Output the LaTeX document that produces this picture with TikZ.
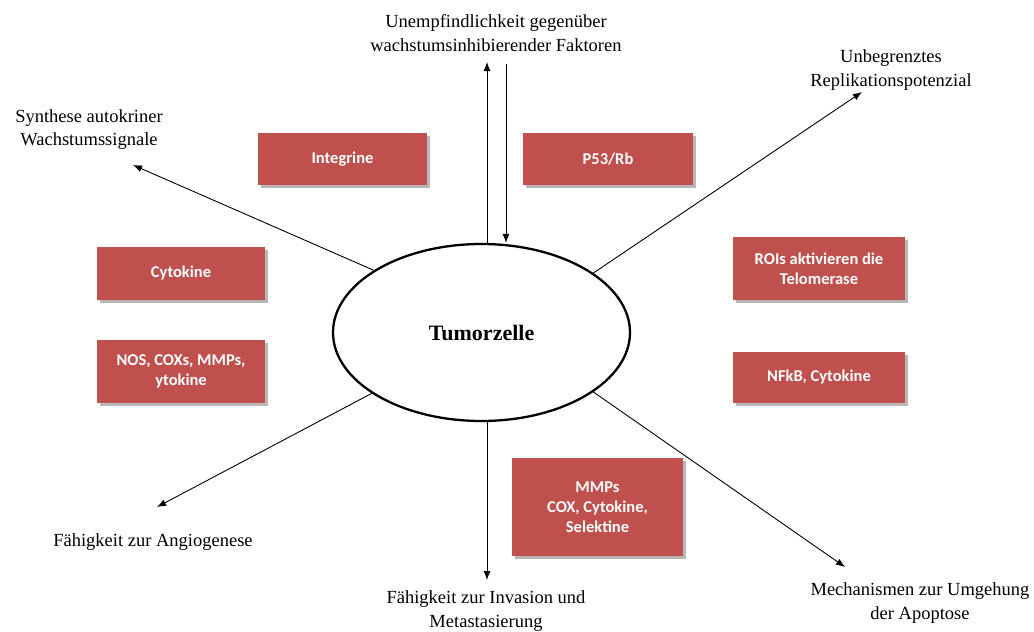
\documentclass[tikz,border=0pt]{standalone}
\usepackage{fontspec}
\setmainfont{Liberation Serif}
\newfontfamily\boxfont{Carlito}
\usetikzlibrary{shapes.geometric,arrows.meta,shadows}
\definecolor{boxred}{RGB}{192,80,77}
\tikzset{
  redbox/.style={draw=none, fill=boxred, text=white, font=\boxfont\bfseries\fontsize{16.5}{20}\selectfont,
    align=center, inner sep=0pt,
    drop shadow={shadow xshift=3pt, shadow yshift=-3pt, fill=gray!70, opacity=0.8}},
  lbl/.style={font=\fontsize{18.5}{23.5}\selectfont, align=center, inner sep=0pt},
  arr/.style={-{Latex[length=9pt,width=7pt]}, line width=0.9pt}
}
\begin{document}
\begin{tikzpicture}[x=1pt,y=-1pt]
\useasboundingbox (0,0) rectangle (1034,632);
\fill[white] (0,0) rectangle (1034,632);

% central cell
\node[ellipse, draw, line width=2.3pt, minimum width=297pt, minimum height=177pt, inner sep=0pt,
  font=\bfseries\fontsize{22}{24}\selectfont] (cell) at (481.5,332.5) {Tumorzelle};

% boxes
\node[redbox, minimum width=169pt, minimum height=52pt] (integ) at (342.5,159) {Integrine};
\node[redbox, minimum width=170pt, minimum height=52pt] (p53) at (608,159) {P53/Rb};
\node[redbox, minimum width=168pt, minimum height=53pt] (cyto) at (181,273.5) {Cytokine};
\node[redbox, minimum width=168pt, minimum height=63pt] (nos) at (181,371.5) {NOS, COXs, MMPs,\\ytokine};
\node[redbox, minimum width=172pt, minimum height=63pt] (rois) at (819,268.5) {ROIs aktivieren die\\Telomerase};
\node[redbox, minimum width=172pt, minimum height=51pt] (nfkb) at (819,377.5) {NFkB, Cytokine};
\node[redbox, minimum width=171pt, minimum height=98pt] (mmps) at (597.5,507) {MMPs\\COX, Cytokine,\\Selektine};

% labels
\node[lbl] (top) at (496,33) {Unempfindlichkeit gegenüber\\wachstumsinhibierender Faktoren};
\node[lbl] (synth) at (89,129.5) {Synthese autokriner\\Wachstumssignale};
\node[lbl] (repl) at (891,70) {Unbegrenztes\\Replikationspotenzial};
\node[lbl] (angio) at (153,542) {Fähigkeit zur Angiogenese};
\node[lbl] (inv) at (486,611) {Fähigkeit zur Invasion und\\Metastasierung};
\node[lbl] (apop) at (920,603) {Mechanismen zur Umgehung\\der Apoptose};

% arrow end coordinates
\coordinate (upend) at (487,62);
\coordinate (downstart) at (506,64);
\coordinate (synend) at (133,165);
\coordinate (replend) at (862,92);
\coordinate (angend) at (157,507);
\coordinate (apopend) at (845,567);
\coordinate (invend) at (487,580);

% connectors
\draw[arr] (cell.north -| upend) -- (upend);
\draw[arr] (downstart) -- (cell.north -| downstart);
\draw[arr] (cell.150) -- (synend);
\draw[arr] (cell.28) -- (replend);
\draw[arr] (cell.209) -- (angend);
\draw[arr] (cell.332) -- (apopend);
\draw[arr] (cell.south -| invend) -- (invend);
\end{tikzpicture}
\end{document}
